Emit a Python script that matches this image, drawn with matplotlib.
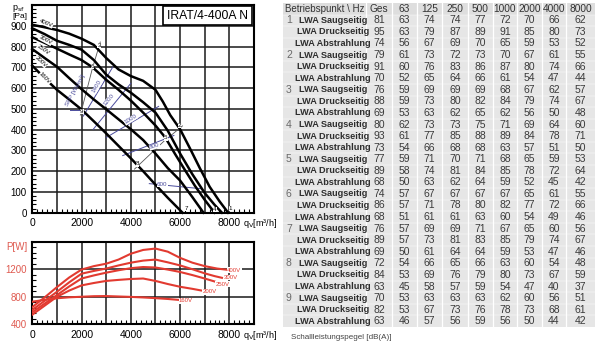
import matplotlib
matplotlib.use("Agg")
import matplotlib.pyplot as plt
from matplotlib.patches import Rectangle
from matplotlib.ticker import MultipleLocator, FuncFormatter

plt.rcParams["font.family"] = ["Liberation Sans", "DejaVu Sans"]

NARROW = ["Liberation Sans Narrow", "Liberation Sans", "DejaVu Sans"]
RED = "#e23a30"
RED_TXT = "#df5a50"
BLUE = "#4b4c9c"

# fan curves p_sf [Pa] over q_V [m3/h]
volt_labels = ["400V", "300V", "250V", "200V", "160V"]
q_400 = [0, 500, 1000, 1500, 2000, 2500, 3000, 3500, 4000, 4500, 5000,
         5300, 5600, 6000, 6400, 6800, 7200, 7600, 7950]
p_400 = [905, 893, 880, 862, 838, 808, 745, 690, 658, 635, 592,
         535, 470, 402, 310, 215, 125, 55, 0]
q_300 = [0, 500, 1000, 1500, 2000, 2500, 3000, 3500, 4000, 4500, 5000,
         5500, 6000, 6500, 7000, 7400, 7700]
p_300 = [888, 860, 828, 808, 785, 735, 665, 618, 578, 532, 482,
         395, 285, 185, 95, 38, 0]
q_250 = [0, 500, 1000, 1500, 2000, 2450, 3000, 3500, 4000, 4500, 5000,
         5400, 5800, 6200, 6600, 7000, 7400]
p_250 = [845, 818, 790, 762, 735, 700, 640, 592, 540, 482, 420,
         362, 282, 205, 130, 62, 0]
q_200 = [0, 500, 1000, 1500, 2000, 2500, 3000, 3500, 4000, 4500, 5000,
         5500, 6000, 6500, 6950]
p_200 = [788, 745, 703, 648, 595, 545, 498, 450, 402, 350, 285,
         215, 155, 75, 0]
q_160 = [0, 500, 1000, 1500, 2000, 2500, 3000, 3500, 4000, 4500, 5000,
         5500, 6100]
p_160 = [708, 648, 592, 545, 497, 440, 382, 322, 262, 200, 135, 72, 0]

# curve label positions (q, p, rotation)
volt_lbl_q = [560, 530, 450, 350, 510]
volt_lbl_p = [912, 831, 786, 729, 647]
volt_lbl_rot = [-22, -28, -35, -43, -46]

# operating points 1..9
op_names = ["1", "2", "3", "4", "5", "6", "7", "8", "9"]
op_q = [8050, 5980, 2720, 7420, 5420, 2440, 6250, 4270, 2010]
op_p = [20, 420, 805, 15, 360, 705, 20, 235, 488]

# system lines through operating points
sys_a_q = [1950, 2430, 2760]
sys_a_p = [470, 690, 822]
sys_b_q = [4150, 5350, 6100]
sys_b_p = [210, 345, 418]

# SFP iso lines [Ws/m3]
sfp_names = ["1400", "1200", "1000", "800", "600"]
sfp_q0 = [2070, 2470, 3000, 3670, 4750]
sfp_p0 = [465, 401, 362, 275, 140]
sfp_q1 = [3270, 4000, 5130, 5750, 6900]
sfp_p1 = [702, 623, 512, 372, 115]
sfp_lbl_q = [2630, 3110, 4000, 4970, 5280]
sfp_lbl_p = [607, 544, 449, 319, 136]
sfp_lbl_rot = [60, 50, 32, 17, 0]

# power curves P [W]
pw_q_400 = [0, 500, 1000, 1500, 2000, 2500, 3000, 3500, 4000, 4500, 5000,
            5500, 6000, 6500, 7000, 7500, 7950]
pw_400 = [650, 790, 940, 1080, 1195, 1245, 1280, 1340, 1425, 1480, 1500,
          1455, 1365, 1295, 1245, 1210, 1190]
pw_q_300 = [0, 500, 1000, 1500, 2000, 2500, 3000, 3500, 4000, 4500, 5000,
            5500, 6000, 6500, 7000, 7400, 7700]
pw_300 = [610, 740, 872, 1010, 1135, 1175, 1210, 1255, 1295, 1325, 1340,
          1300, 1255, 1200, 1140, 1100, 1075]
pw_q_250 = [0, 500, 1000, 1500, 2000, 2500, 3000, 3500, 4000, 4500, 5000,
            5500, 6000, 6500, 7000, 7400]
pw_250 = [575, 700, 824, 950, 1065, 1110, 1150, 1185, 1215, 1232, 1225,
          1195, 1160, 1115, 1065, 1022]
pw_q_200 = [0, 500, 1000, 1500, 2000, 2500, 3000, 3500, 4000, 4500, 5000,
            5500, 6000, 6500, 6950]
pw_200 = [540, 670, 800, 890, 965, 1000, 1030, 1045, 1058, 1065, 1030,
          985, 945, 915, 885]
pw_q_160 = [0, 500, 1000, 1500, 2000, 2500, 3000, 3500, 4000, 4500, 5000,
            5500, 6100]
pw_160 = [728, 755, 778, 792, 800, 808, 810, 804, 798, 790, 780, 768, 750]
pw_lbl_q = [8200, 8070, 7730, 7190, 6240]
pw_lbl_p = [1185, 1080, 983, 872, 742]

# sound power table
hz_cols = ["Ges", "63", "125", "250", "500", "1000", "2000", "4000", "8000"]
row_kinds = ["LWA Saugseitig", "LWA Druckseitig", "LWA Abstrahlung"]
lwa_saug = [[81, 63, 74, 74, 77, 72, 70, 66, 62],
            [79, 61, 73, 72, 73, 70, 67, 61, 55],
            [76, 59, 69, 69, 69, 68, 67, 62, 57],
            [80, 62, 73, 73, 75, 71, 69, 64, 60],
            [77, 59, 71, 70, 71, 68, 65, 59, 53],
            [74, 57, 67, 67, 67, 67, 65, 61, 55],
            [76, 57, 69, 69, 71, 67, 65, 60, 56],
            [72, 54, 66, 65, 66, 63, 60, 54, 48],
            [70, 53, 63, 63, 63, 62, 60, 56, 51]]
lwa_druck = [[95, 63, 79, 87, 89, 91, 85, 80, 73],
             [91, 60, 76, 83, 86, 87, 80, 74, 66],
             [88, 59, 73, 80, 82, 84, 79, 74, 67],
             [93, 61, 77, 85, 88, 89, 84, 78, 71],
             [89, 58, 74, 81, 84, 85, 78, 72, 64],
             [86, 57, 71, 78, 80, 82, 77, 72, 66],
             [89, 57, 73, 81, 83, 85, 79, 74, 67],
             [84, 53, 69, 76, 79, 80, 73, 67, 59],
             [82, 53, 67, 73, 76, 78, 73, 68, 61]]
lwa_abstr = [[74, 56, 67, 69, 70, 65, 59, 53, 52],
             [70, 52, 65, 64, 66, 61, 54, 47, 44],
             [69, 53, 63, 62, 65, 62, 56, 50, 48],
             [73, 54, 66, 68, 68, 63, 57, 51, 50],
             [68, 50, 63, 62, 64, 59, 52, 45, 42],
             [68, 51, 61, 61, 63, 60, 54, 49, 46],
             [69, 50, 61, 64, 64, 59, 53, 47, 46],
             [63, 45, 58, 57, 59, 54, 47, 40, 37],
             [63, 46, 57, 56, 59, 56, 50, 44, 42]]


def even_thousands(v, pos):
    """Label only every second thousand."""
    return f"{int(v)}" if int(v) % 2000 == 0 else ""


def style_axes(ax, qv_y):
    """Common frame, grid and tick styling."""
    for s in ax.spines.values():
        s.set_linewidth(1.5)
    ax.set_xlim(0, 9000)
    ax.xaxis.set_major_locator(MultipleLocator(1000))
    ax.xaxis.set_minor_locator(MultipleLocator(200))
    ax.xaxis.set_major_formatter(FuncFormatter(even_thousands))
    ax.grid(True, which="major", color="#1a1a1a", lw=1.1)
    ax.tick_params(which="major", length=0, labelsize=7.5, pad=4)
    ax.tick_params(which="minor", direction="in", length=3, width=0.8,
                   bottom=True, left=True)
    ax.text(8560, qv_y, "q$_\\mathrm{V}$[m³/h]", fontsize=6.5,
            transform=ax.get_xaxis_transform(), ha="left", va="center",
            clip_on=False)


def draw_pressure(ax):
    curves = [(q_400, p_400), (q_300, p_300), (q_250, p_250),
              (q_200, p_200), (q_160, p_160)]
    style_axes(ax, -0.052)
    ax.set_ylim(0, 1000)
    ax.set_yticks(range(0, 1000, 100))
    ax.yaxis.set_minor_locator(MultipleLocator(20))
    ax.tick_params(axis="y", labelsize=7)

    for q, p in curves:
        ax.plot(q, p, color="black", lw=1.8, zorder=4, clip_on=False)
    for name, x, y, r in zip(volt_labels, volt_lbl_q, volt_lbl_p, volt_lbl_rot):
        ax.text(x, y, name, fontsize=4.3, rotation=r, ha="center",
                va="center", zorder=5,
                bbox=dict(fc="white", ec="none", pad=0.2))

    ax.plot(sys_a_q, sys_a_p, color="#555555", lw=0.6, zorder=3)
    ax.plot(sys_b_q, sys_b_p, color="#555555", lw=0.6, zorder=3)
    for name, x, y in zip(op_names, op_q, op_p):
        ax.text(x, y, name, fontsize=4.5, ha="center", va="center",
                zorder=6, bbox=dict(fc="white", ec="none", pad=0.1))

    for i, name in enumerate(sfp_names):
        ax.plot([sfp_q0[i], sfp_q1[i]], [sfp_p0[i], sfp_p1[i]],
                color=BLUE, lw=0.7, zorder=3)
        ax.text(sfp_lbl_q[i], sfp_lbl_p[i], name, fontsize=4.5, color=BLUE,
                rotation=sfp_lbl_rot[i], ha="center", va="center", zorder=5,
                bbox=dict(fc="white", ec="none", pad=0.2))
    ax.plot([1540, 2000], [496, 496], color=BLUE, lw=0.7, zorder=3)
    ax.text(1730, 590, "SFP [Ws/m³]", fontsize=4.5, color=BLUE, rotation=61,
            ha="center", va="center", zorder=5)

    ax.text(0.79, 0.949, "IRAT/4-400A N", fontsize=8.7, transform=ax.transAxes,
            ha="center", va="center", zorder=7,
            bbox=dict(boxstyle="square,pad=0.32", fc="white", ec="black",
                      lw=1.2))


def draw_power(ax):
    curves = [(pw_q_400, pw_400), (pw_q_300, pw_300), (pw_q_250, pw_250),
              (pw_q_200, pw_200), (pw_q_160, pw_160)]
    style_axes(ax, -0.133)
    ax.set_ylim(400, 1600)
    ax.set_yticks([400, 800, 1200])
    ax.yaxis.set_minor_locator(MultipleLocator(80))
    ax.tick_params(axis="y", labelsize=7, labelcolor=RED_TXT)

    for q, p in curves:
        ax.plot(q, p, color=RED, lw=1.5, zorder=4)
    for name, x, y in zip(volt_labels, pw_lbl_q, pw_lbl_p):
        ax.text(x, y, name, fontsize=4.3, color=RED, ha="center",
                va="center", zorder=5,
                bbox=dict(fc="white", ec="none", pad=0.2))


def draw_table(ax):
    col_edges = [0, 83, 109, 134, 159, 185, 210, 234, 259, 283, 312]
    ax.set_xlim(0, 312)
    ax.set_ylim(28, 0)
    ax.axis("off")
    ax.add_patch(Rectangle((0, 0), 312, 28, fc="#e6e6e6", ec="none"))
    ax.add_patch(Rectangle((0, 0), 312, 1, fc="#dedede", ec="none"))
    for xe in col_edges[1:-1]:
        ax.plot([xe, xe], [0, 28], color="white", lw=0.9)
    for r in range(1, 28):
        ax.plot([0, 312], [r, r], color="white", lw=0.3)

    centers = [(a + b) / 2 for a, b in zip(col_edges[1:-1], col_edges[2:])]
    ax.text(42, 0.5, "Betriebspunkt \\ Hz", family=NARROW, fontsize=7,
            color="#333333", ha="center", va="center")
    for c, h in zip(centers, hz_cols):
        ax.text(c, 0.5, h, family=NARROW, fontsize=7.3, color="#333333",
                ha="center", va="center")

    tables = [lwa_saug, lwa_druck, lwa_abstr]
    for i in range(9):
        for k, kind in enumerate(row_kinds):
            r = 1 + 3 * i + k + 0.5
            if k == 0:
                ax.text(3, r, str(i + 1), family=NARROW, fontsize=7.5,
                        color="#6a6a6a", ha="left", va="center")
            ax.text(50, r, kind, family=NARROW, fontsize=6.6,
                    color="#2e2e2e", ha="center", va="center",
                    fontweight="bold")
            for c, v in zip(centers, tables[k][i]):
                ax.text(c, r, str(v), family=NARROW, fontsize=7.5,
                        color="#3a3a3a", ha="center", va="center")


def main():
    fig = plt.figure(figsize=(6, 3.52), dpi=100)
    ax_p = fig.add_axes([0.0538, 0.3957, 0.3695, 0.590])
    ax_w = fig.add_axes([0.0538, 0.0787, 0.3695, 0.2347])
    ax_t = fig.add_axes([283 / 600, 1 - 327 / 352, 312 / 600, 324 / 352])

    draw_pressure(ax_p)
    draw_power(ax_w)
    draw_table(ax_t)

    fig.text(0.020, 0.992, "p$_\\mathrm{sf}$", fontsize=6.5, va="top")
    fig.text(0.020, 0.962, "[Pa]", fontsize=6, va="top")
    fig.text(0.010, 0.312, "P[W]", fontsize=7, color=RED_TXT, va="top")
    fig.text(0.485, 0.04, "Schallleistungspegel [dB(A)]", fontsize=5.8,
             color="#444444", va="center")

    fig.savefig("out.png", dpi=100)


if __name__ == "__main__":
    main()
